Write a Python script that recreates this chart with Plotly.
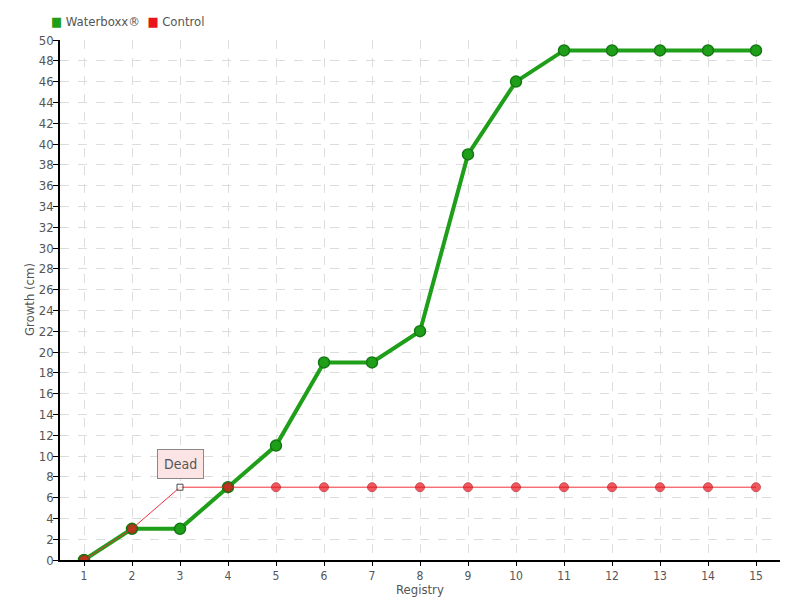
import plotly.graph_objects as go

registry = list(range(1, 16))
waterboxx = [0, 3, 3, 7, 11, 19, 19, 22, 39, 46, 49, 49, 49, 49, 49]
control = [0, 3, 7, 7, 7, 7, 7, 7, 7, 7, 7, 7, 7, 7, 7]
y_ticks = list(range(0, 51, 2))

FONT = "DejaVu Sans Condensed, Liberation Sans Narrow, sans-serif"
GREEN = "#1f9e1a"
RED = "#e8141e"
ctrl_fill = [RED] * len(control)
ctrl_fill[2] = "white"
ctrl_sym = ["circle"] * len(control)
ctrl_sym[2] = "square"
ctrl_size = [9] * len(control)
ctrl_size[2] = 6
ctrl_line = ["#b81018"] * len(control)
ctrl_line[2] = "black"

# plot area in figure pixels (page is offset by 8px body margin)
L, T, R, B = 52, 32, 28, 48
PW, PH = 800 - L - R, 600 - T - B

fig = go.Figure()
fig.add_trace(go.Scatter(
    x=registry, y=waterboxx, name="Waterboxx®", mode="lines+markers", showlegend=False,
    line=dict(color=GREEN, width=4),
    marker=dict(size=11, color=GREEN, line=dict(color="#137a12", width=1.5), symbol="circle"),
))
fig.add_trace(go.Scatter(
    x=registry, y=control, name="Control", mode="lines+markers", showlegend=False,
    line=dict(color="#f0303a", width=1),
    marker=dict(size=ctrl_size, color=ctrl_fill, symbol=ctrl_sym,
                line=dict(color=ctrl_line, width=1)),
))

fig.add_annotation(
    x=registry[2], y=control[2], text="Dead", showarrow=True, arrowhead=0,
    arrowwidth=1, arrowcolor="rgba(0,0,0,0)", ax=0, ay=-8, yanchor="bottom",
    bgcolor="#fde4e4", bordercolor="#888888", borderwidth=1, borderpad=6,
    font=dict(family=FONT, size=14, color="#555555"),
)

# legend (compact, square swatches)
fig.add_annotation(
    xref="paper", yref="paper", x=(41 - L) / PW, y=1 + 18 / PH, xanchor="left", yanchor="middle",
    showarrow=False,
    text=(f"<span style='color:{GREEN}'>■</span> Waterboxx®  "
          f"<span style='color:{RED}'>■</span> Control"),
    font=dict(family=FONT, size=13, color="#555555"),
)
# axis titles
fig.add_annotation(
    xref="paper", yref="paper", x=0.5, y=-29 / PH, xanchor="center", yanchor="middle",
    showarrow=False, text="Registry", font=dict(family=FONT, size=13, color="#555555"),
)
fig.add_annotation(
    xref="paper", yref="paper", x=-31 / PW, y=0.5, xanchor="center", yanchor="middle",
    showarrow=False, text="Growth (cm)", textangle=-90,
    font=dict(family=FONT, size=13, color="#555555"),
)

fig.update_layout(
    width=800, height=600,
    margin=dict(l=L, r=R, t=T, b=B, autoexpand=False),
    paper_bgcolor="white", plot_bgcolor="white",
    font=dict(family=FONT, size=13, color="#555555"),
    showlegend=False,
)
fig.update_xaxes(
    range=[0.5, 15.5], tickmode="array", tickvals=registry, ticktext=[str(r) for r in registry],
    showline=True, linecolor="black", linewidth=1.5, ticks="outside", tickcolor="black",
    ticklen=4, showgrid=True, gridcolor="#dddddd", griddash="dash", zeroline=False,
    automargin=False, tickfont=dict(size=12),
)
fig.update_yaxes(
    range=[0, 50], tickmode="array", tickvals=y_ticks,
    showline=True, linecolor="black", linewidth=1.5, ticks="outside", tickcolor="black",
    ticklen=5, showgrid=True, gridcolor="#dddddd", griddash="dash", zeroline=False,
    automargin=False, ticklabelstandoff=-3,
)

fig.write_html("out.html")
